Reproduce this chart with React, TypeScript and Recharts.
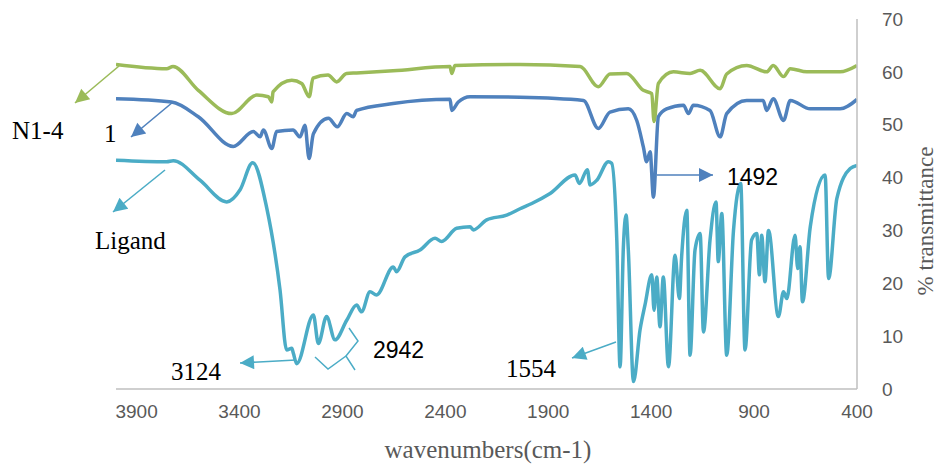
import React from "react";
import { LineChart, Line, XAxis, YAxis } from "recharts";

// wavenumber (cm-1) / %T
const n14Wave = [4000, 3754, 3723, 3600, 3438, 3316, 3260, 3243, 3237, 3146, 3098, 3061, 3043, 2970, 2928, 2880, 2831, 2654, 2377, 2369, 2353, 2037, 1745, 1657, 1600, 1519, 1438, 1397, 1386, 1365, 1292, 1211, 1162, 1065, 1033, 936, 839, 807, 757, 724, 644, 482, 400];
const n14T = [61.4, 60.6, 61.0, 56.5, 52.1, 55.6, 55.3, 54.3, 56.2, 58.4, 57.8, 55.3, 58.8, 59.4, 58.1, 59.7, 59.8, 60.2, 61.0, 59.7, 61.2, 61.4, 61.0, 57.2, 59.6, 59.7, 56.5, 55.9, 50.6, 57.8, 60.0, 59.7, 60.3, 56.8, 59.6, 61.2, 60.0, 61.2, 59.1, 60.6, 60.0, 60.0, 61.2];

const oneWave = [4000, 3730, 3600, 3430, 3333, 3300, 3284, 3243, 3220, 3140, 3106, 3082, 3062, 3041, 2968, 2925, 2879, 2848, 2831, 2654, 2377, 2369, 2337, 2280, 2037, 1729, 1657, 1600, 1511, 1470, 1438, 1422, 1405, 1389, 1365, 1325, 1243, 1219, 1195, 1114, 1065, 1033, 936, 856, 839, 807, 757, 724, 627, 482, 400];
const oneT = [54.9, 54.3, 51.5, 45.9, 48.7, 47.7, 49.0, 45.5, 48.7, 49.0, 47.7, 49.9, 43.6, 48.3, 51.2, 49.6, 52.1, 51.5, 52.7, 54.0, 54.8, 52.7, 54.3, 55.3, 55.2, 54.6, 49.3, 52.4, 53.0, 50.8, 45.8, 43.0, 44.9, 36.3, 51.5, 53.0, 53.7, 52.1, 53.7, 52.7, 47.7, 52.1, 54.6, 54.6, 52.7, 54.9, 50.8, 54.6, 53.0, 53.0, 54.8];

const ligandWave = [4000, 3754, 3722, 3592, 3462, 3397, 3336, 3268, 3203, 3171, 3146, 3138, 3122, 3041, 3017, 2977, 2936, 2879, 2831, 2807, 2766, 2734, 2653, 2637, 2596, 2523, 2450, 2418, 2345, 2280, 2264, 2199, 2102, 2037, 1980, 1891, 1770, 1749, 1710, 1697, 1664, 1608, 1592, 1567, 1551, 1535, 1522, 1511, 1486, 1454, 1430, 1397, 1386, 1373, 1357, 1341, 1316, 1284, 1263, 1252, 1227, 1211, 1187, 1162, 1146, 1114, 1085, 1074, 1057, 1033, 1000, 965, 944, 912, 887, 874, 863, 847, 830, 782, 757, 741, 701, 688, 677, 665, 627, 555, 538, 498, 433, 400];
const ligandT = [43.3, 43.0, 43.2, 39.5, 35.4, 37.7, 42.8, 34.3, 18.7, 7.4, 7.7, 6.7, 4.8, 14.0, 8.6, 13.7, 9.3, 13.0, 15.9, 14.6, 18.4, 17.8, 23.1, 22.2, 25.0, 26.3, 28.5, 27.9, 30.4, 30.7, 30.1, 32.0, 32.9, 34.1, 35.1, 37.0, 40.5, 38.9, 41.5, 38.6, 39.5, 43.0, 42.7, 28.2, 4.2, 26.9, 32.9, 26.3, 1.4, 11.2, 15.9, 21.6, 14.9, 21.2, 11.8, 21.2, 4.2, 25.3, 17.1, 25.0, 33.8, 6.4, 26.3, 29.4, 10.8, 28.2, 35.4, 24.1, 33.2, 6.4, 30.0, 38.9, 7.4, 28.2, 29.4, 21.6, 29.1, 20.3, 30.0, 13.7, 18.4, 17.1, 29.1, 22.8, 26.9, 16.5, 30.7, 40.5, 20.9, 36.0, 41.7, 42.3];

const xTicks = [3900, 3400, 2900, 2400, 1900, 1400, 900, 400];
const yTicks = [0, 10, 20, 30, 40, 50, 60, 70];

const toRows = (w: number[], t: number[]) => w.map((x, i) => ({ x, y: t[i] }));

const GREEN = "#9BBB59";
const BLUE = "#4F81BD";
const TEAL = "#4BACC6";
const serif = "'Liberation Serif', 'Times New Roman', serif";
const sans = "'Liberation Sans', Arial, sans-serif";

function Arrow({ x1, y1, x2, y2, color, id }: any) {
  return (
    <line x1={x1} y1={y1} x2={x2} y2={y2} stroke={color} strokeWidth={1.6} markerEnd={`url(#${id})`} />
  );
}

export default function App() {
  const tickStyle = { fill: "#595959", fontSize: 19, fontFamily: sans };
  return (
    <div style={{ position: "relative", width: 938, height: 467, background: "#fff" }}>
      <style>{"body{margin:0}"}</style>
      <LineChart width={938} height={467} margin={{ top: 19, right: 0, bottom: 0, left: 116 }}>
        <XAxis
          type="number"
          dataKey="x"
          domain={[400, 4000]}
          reversed
          ticks={xTicks}
          allowDataOverflow
          height={78}
          tickLine={false}
          tickMargin={10}
          axisLine={{ stroke: "#BFBFBF", strokeWidth: 1.5 }}
          tick={tickStyle}
        />
        <YAxis
          orientation="right"
          type="number"
          domain={[0, 70]}
          ticks={yTicks}
          width={81}
          tickLine={false}
          tickMargin={19}
          axisLine={{ stroke: "#BFBFBF", strokeWidth: 1.5 }}
          tick={{ ...tickStyle, textAnchor: "start" }}
        />
        <Line data={toRows(n14Wave, n14T)} dataKey="y" type="monotone" stroke={GREEN} strokeWidth={3.5} dot={false} isAnimationActive={false} />
        <Line data={toRows(oneWave, oneT)} dataKey="y" type="monotone" stroke={BLUE} strokeWidth={3.5} dot={false} isAnimationActive={false} />
        <Line data={toRows(ligandWave, ligandT)} dataKey="y" type="monotone" stroke={TEAL} strokeWidth={3.5} dot={false} isAnimationActive={false} />
      </LineChart>
      <svg width={938} height={467} style={{ position: "absolute", left: 0, top: 0, pointerEvents: "none" }}>
        <defs>
          {[["hg", GREEN], ["hb", BLUE], ["ht", TEAL]].map(([id, c]) => (
            <marker key={id} id={id} viewBox="0 0 10 10" refX={10} refY={5} markerUnits="userSpaceOnUse" markerWidth={16} markerHeight={14} orient="auto">
              <path d="M0,0 L10,5 L0,10 z" fill={c} />
            </marker>
          ))}
        </defs>
        <Arrow x1={119} y1={66} x2={75} y2={103} color={GREEN} id="hg" />
        <Arrow x1={173} y1={102} x2={131} y2={137} color={BLUE} id="hb" />
        <Arrow x1={165} y1={170} x2={113} y2={212} color={TEAL} id="ht" />
        <Arrow x1={296} y1={360} x2={240} y2={363} color={TEAL} id="ht" />
        <Arrow x1={616} y1={342} x2={572} y2={358} color={TEAL} id="ht" />
        <Arrow x1={657} y1={175} x2={713} y2={175} color={BLUE} id="hb" />
        <polyline points="315,357 328,369 346,356 355,370" fill="none" stroke={TEAL} strokeWidth={1.5} />
        <polyline points="346,356 358,341 349,328" fill="none" stroke={TEAL} strokeWidth={1.5} />

        <text x={12} y={139} fontFamily={serif} fontSize={25} fill="#000">N1-4</text>
        <text x={104} y={142} fontFamily={serif} fontSize={25} fill="#000">1</text>
        <text x={95} y={249} fontFamily={serif} fontSize={25} fill="#000">Ligand</text>
        <text x={171} y={380} fontFamily={serif} fontSize={25} fill="#000">3124</text>
        <text x={506} y={377} fontFamily={serif} fontSize={25} fill="#000">1554</text>
        <text x={373} y={358} fontFamily={sans} fontSize={23} fill="#000">2942</text>
        <text x={727} y={185} fontFamily={sans} fontSize={23} fill="#000">1492</text>

        <text x={488} y={458} textAnchor="middle" fontFamily={serif} fontSize={25} fill="#595959">wavenumbers(cm-1)</text>
        <text x={925} y={221} textAnchor="middle" dominantBaseline="central" transform="rotate(-90 925 221)" fontFamily={serif} fontSize={23} fill="#595959">% transmittance</text>
      </svg>
    </div>
  );
}
